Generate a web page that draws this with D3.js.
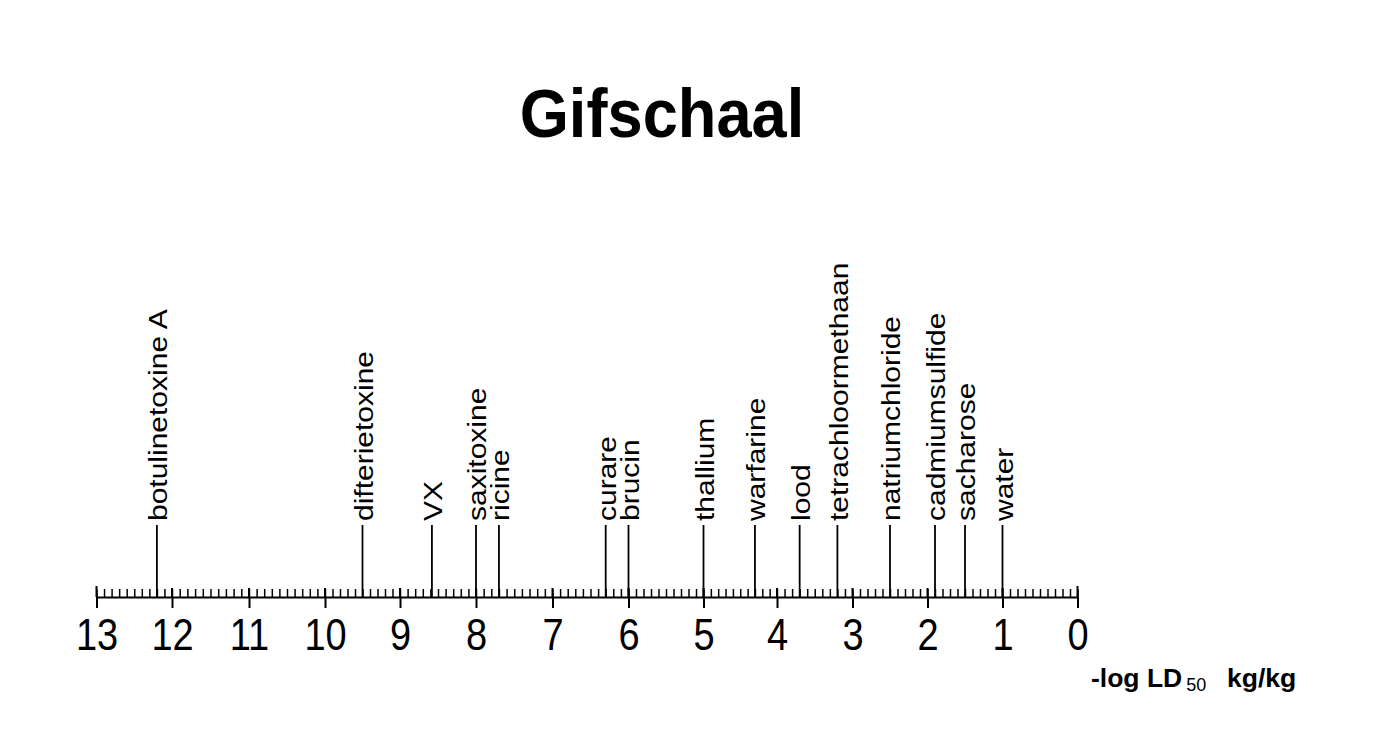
<!DOCTYPE html>
<html>
<head>
  <title>Gifschaal</title>
  <script src="https://d3js.org/d3.v7.min.js"></script>
  <style>
    body, html {
      margin: 0;
      padding: 0;
      background: #fff;
      overflow: hidden;
    }
    text {
      font-family: "Liberation Sans", Arial, sans-serif;
      fill: #000;
    }
  </style>
</head>
<body>
  <div id="chart"></div>

  <script>
    // Substances and their -log LD50 (kg/kg)
    const substances = ["botulinetoxine A", "difterietoxine", "VX", "saxitoxine", "ricine",
      "curare", "brucin", "thallium", "warfarine", "lood", "tetrachloormethaan",
      "natriumchloride", "cadmiumsulfide", "sacharose", "water"];
    const values = [12.2, 9.5, 8.58, 8.0, 7.7, 6.3, 6.0, 5.0, 4.3, 3.7, 3.2, 2.5, 1.9, 1.5, 1.0];
    const majorTicks = [13, 12, 11, 10, 9, 8, 7, 6, 5, 4, 3, 2, 1, 0];

    const width = 1400, height = 747;
    const axisY = 597;
    const lineTop = 525;
    const squeeze = 0.85; // the scan is narrower than it is tall

    const svg = d3.select("#chart")
      .append("svg")
      .attr("width", width)
      .attr("height", height);

    // the scanned ruler is not perfectly even, so map each whole unit
    const x = d3.scaleLinear()
      .domain(majorTicks)
      .range([96.5, 172, 249, 325, 400, 476, 552.5, 628.5, 703.5, 777, 852.5, 927.5, 1002.5, 1077.5]);

    // Title
    svg.append("text")
      .attr("transform", "translate(662,137) scale(0.93,1)")
      .attr("text-anchor", "middle")
      .attr("font-size", 68)
      .attr("font-weight", "bold")
      .text("Gifschaal");

    // Minor ticks every 0.1 above the axis
    const minor = d3.range(0, 131).map(d => d / 10);
    svg.append("g")
      .attr("transform", `translate(0,${axisY})`)
      .call(d3.axisTop(x).tickValues(minor).tickSize(8).tickSizeOuter(0).tickFormat(""))
      .call(g => g.select(".domain").remove())
      .call(g => g.selectAll("line").attr("stroke-width", 1.5));

    // Major ticks and labels below
    const major = svg.append("g")
      .attr("transform", `translate(0,${axisY})`)
      .call(d3.axisBottom(x).tickValues(majorTicks).tickSize(11).tickSizeOuter(0).tickFormat(d3.format("d")));

    major.select(".domain").attr("stroke-width", 2);
    major.selectAll(".tick line").attr("stroke-width", 2);
    major.selectAll(".tick text")
      .attr("y", 21)
      .attr("dy", "0.71em")
      .attr("font-size", 44.7)
      .attr("font-family", "Liberation Sans, Arial, sans-serif")
      .attr("transform", `scale(${squeeze},1)`);

    // Whole units also reach above the axis, the ends a bit higher
    svg.append("g")
      .selectAll("line")
      .data(majorTicks)
      .join("line")
      .attr("x1", d => x(d))
      .attr("x2", d => x(d))
      .attr("y1", d => (d === 13 || d === 0) ? axisY - 11 : axisY - 9)
      .attr("y2", axisY)
      .attr("stroke", "#000")
      .attr("stroke-width", 2);

    // Substance markers
    const data = substances.map((name, i) => ({ name, value: values[i] }));

    svg.append("g")
      .selectAll("line")
      .data(data)
      .join("line")
      .attr("x1", d => x(d.value))
      .attr("x2", d => x(d.value))
      .attr("y1", lineTop)
      .attr("y2", axisY)
      .attr("stroke", "#000")
      .attr("stroke-width", 1.8);

    svg.append("g")
      .selectAll("text")
      .data(data)
      .join("text")
      .attr("transform", d => `translate(${x(d.value)},${lineTop - 4}) scale(${squeeze},1) rotate(-90)`)
      .attr("dy", "0.4em")
      .attr("font-size", 30)
      .text(d => d.name);

    // Axis title
    const unit = svg.append("text")
      .attr("x", 1091)
      .attr("y", 687)
      .attr("font-size", 26.5)
      .attr("font-weight", "bold");
    unit.append("tspan").text("-log LD");
    unit.append("tspan")
      .attr("font-size", 18)
      .attr("font-weight", "normal")
      .attr("dx", 4)
      .attr("dy", 4)
      .text("50");
    unit.append("tspan")
      .attr("x", 1227)
      .attr("dy", -4)
      .text("kg/kg");
  </script>
</body>
</html>
